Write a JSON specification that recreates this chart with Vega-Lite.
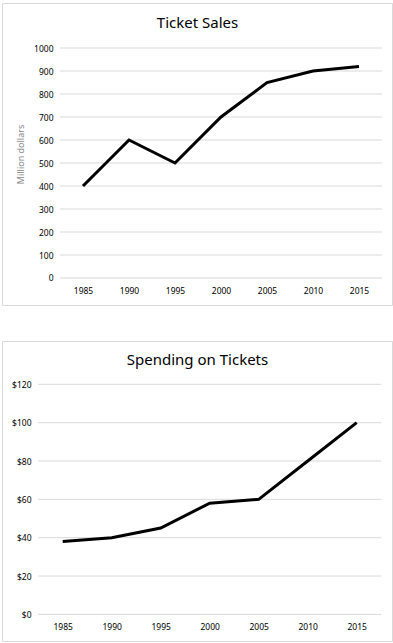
{
  "$schema": "https://vega.github.io/schema/vega-lite/v6.json",
  "padding": {"top": 2, "left": 1, "right": 0, "bottom": 0},
  "spacing": 34,
  "datasets": {
    "sales": [
      {"year": 1985, "value": 400},
      {"year": 1990, "value": 600},
      {"year": 1995, "value": 500},
      {"year": 2000, "value": 700},
      {"year": 2005, "value": 850},
      {"year": 2010, "value": 900},
      {"year": 2015, "value": 920}
    ],
    "spending": [
      {"year": 1985, "value": 38},
      {"year": 1990, "value": 40},
      {"year": 1995, "value": 45},
      {"year": 2000, "value": 58},
      {"year": 2005, "value": 60},
      {"year": 2010, "value": 80},
      {"year": 2015, "value": 100}
    ],
    "gridSales": [
      {"g": 0}, {"g": 100}, {"g": 200}, {"g": 300}, {"g": 400}, {"g": 500},
      {"g": 600}, {"g": 700}, {"g": 800}, {"g": 900}, {"g": 1000}
    ],
    "gridSpending": [
      {"g": 0}, {"g": 20}, {"g": 40}, {"g": 60}, {"g": 80}, {"g": 100}, {"g": 120}
    ]
  },
  "vconcat": [
    {
      "width": 390,
      "height": 302,
      "encoding": {
        "x": {
          "type": "quantitative",
          "scale": {"domain": [1976.196, 2018.587], "nice": false, "zero": false},
          "axis": {"values": [1985, 1990, 1995, 2000, 2005, 2010, 2015], "format": "d", "title": "Ticket Sales", "titleFontSize": 15, "titleFontWeight": "normal", "titleColor": "#000000", "titleX": 195, "titleY": -251, "titleAlign": "center", "titleBaseline": "alphabetic", "titleAnchor": null, "grid": false, "domain": false, "ticks": false, "tickSize": 0, "offset": -27, "labelPadding": 8, "labelOverlap": false}
        },
        "y": {
          "type": "quantitative",
          "scale": {"domain": [-117.4, 1195.7], "nice": false, "zero": false},
          "axis": {"values": [0, 100, 200, 300, 400, 500, 600, 700, 800, 900, 1000], "format": "d", "title": "Million dollars", "titleColor": "#888888", "titleFontSize": 9, "titleFontWeight": "normal", "titlePadding": 8, "grid": false, "domain": false, "ticks": false, "tickSize": 0, "offset": -51, "labelPadding": 0, "labelOverlap": false}
        }
      },
      "layer": [
        {
          "data": {"name": "gridSales"},
          "mark": {"type": "rule", "color": "#d9d9d9", "strokeWidth": 1},
          "encoding": {
            "x": {"datum": 1982.5, "type": "quantitative"},
            "x2": {"datum": 2017.5},
            "y": {"field": "g", "type": "quantitative"}
          }
        },
        {
          "data": {"name": "sales"},
          "mark": {"type": "line", "color": "black", "strokeWidth": 3},
          "encoding": {
            "x": {"field": "year", "type": "quantitative"},
            "y": {"field": "value", "type": "quantitative"}
          }
        }
      ]
    },
    {
      "width": 390,
      "height": 300,
      "encoding": {
        "x": {
          "type": "quantitative",
          "scale": {"domain": [1978.806, 2018.602], "nice": false, "zero": false},
          "axis": {"values": [1985, 1990, 1995, 2000, 2005, 2010, 2015], "format": "d", "title": "Spending on Tickets", "titleFontSize": 15, "titleFontWeight": "normal", "titleColor": "#000000", "titleX": 195, "titleY": -250, "titleAlign": "center", "titleBaseline": "alphabetic", "titleAnchor": null, "grid": false, "domain": false, "ticks": false, "tickSize": 0, "offset": -27, "labelPadding": 8, "labelOverlap": false}
        },
        "y": {
          "type": "quantitative",
          "scale": {"domain": [-13.9, 142.6], "nice": false, "zero": false},
          "axis": {"values": [0, 20, 40, 60, 80, 100, 120], "format": "$.0f", "title": null, "grid": false, "domain": false, "ticks": false, "tickSize": 0, "offset": -29, "labelPadding": 0, "labelOverlap": false}
        }
      },
      "layer": [
        {
          "data": {"name": "gridSpending"},
          "mark": {"type": "rule", "color": "#d9d9d9", "strokeWidth": 1},
          "encoding": {
            "x": {"datum": 1982.5, "type": "quantitative"},
            "x2": {"datum": 2017.5},
            "y": {"field": "g", "type": "quantitative"}
          }
        },
        {
          "data": {"name": "spending"},
          "mark": {"type": "line", "color": "black", "strokeWidth": 3},
          "encoding": {
            "x": {"field": "year", "type": "quantitative"},
            "y": {"field": "value", "type": "quantitative"}
          }
        }
      ]
    }
  ],
  "config": {
    "font": "Noto Sans",
    "view": {"stroke": "#d9d9d9", "strokeWidth": 1},
    "axis": {"labelFontSize": 8.5, "labelColor": "#000000", "labelFont": "Noto Sans", "titleFont": "Noto Sans"}
  }
}
